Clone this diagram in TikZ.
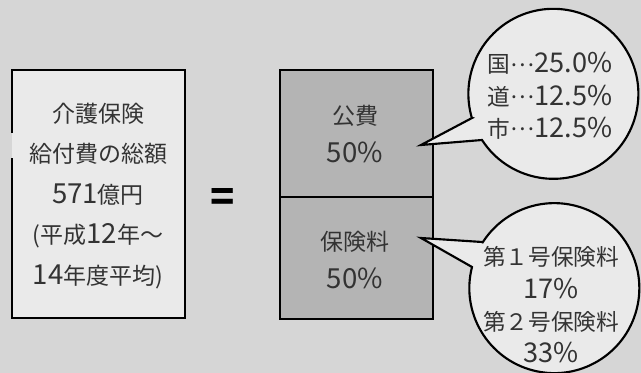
\documentclass[tikz,border=0pt]{standalone}
\usepackage{fontspec}
\setmainfont{Noto Sans CJK JP}
\newfontfamily\numfont{Noto Sans CJK JP}[Scale=1.2]
\newcommand{\digs}[1]{{\numfont #1}}
\newcommand{\middots}{\raisebox{0.3em}{…}}
\definecolor{bgcol}{HTML}{D6D6D6}
\definecolor{lightcol}{HTML}{EAEAEA}
\definecolor{boxcol}{HTML}{B4B4B4}
\definecolor{inkcol}{HTML}{333333}
\begin{document}
\begin{tikzpicture}[x=0.75pt,y=0.75pt,
  frame/.style={draw=black, line width=1.6pt},
  bigtext/.style={text=inkcol, align=center, inner sep=0pt,
    font=\fontsize{17.25}{30.4}\selectfont},
  midtext/.style={text=inkcol, align=center, inner sep=0pt,
    font=\fontsize{17.25}{28.5}\selectfont},
  bubtext/.style={text=inkcol, align=center, inner sep=0pt,
    font=\fontsize{17}{24.2}\selectfont}]
% background
\fill[bgcol] (0,0) rectangle (641,373);
\useasboundingbox (0,0) rectangle (641,373);

% left box
\fill[lightcol] (12,55) rectangle (185,303);
\draw[frame] (12,240) -- (12,303) -- (185,303) -- (185,55) -- (12,55) -- (12,215);
\node[bigtext] (total) at (98,177) {介護保険\\給付費の総額\\\digs{571}億円\\(平成\digs{12}年～\\\digs{14}年度平均)};

% equals sign
\node[text=black, inner sep=0pt, font=\fontsize{30}{30}\selectfont\bfseries] (eq) at (222.5,173) {=};

% center boxes
\fill[boxcol] (280,54) rectangle (433,303);
\draw[frame] (280,54) rectangle (433,303);
\draw[frame] (280,176) -- (433,176);
\node[midtext] (pub) at (355,239) {公費\\\digs{50\%}};
\node[midtext] (ins) at (355,113) {保険料\\\digs{50\%}};

% top bubble
\filldraw[fill=lightcol, frame, line join=miter]
  (472,255) -- (421,228) -- (482,233)
  arc[start angle=212.9, end angle=556.5, radius=85] -- cycle;
\node[bubtext] (pubsplit) at (550,277) {国\middots\digs{25.0\%}\\道\middots\digs{12.5\%}\\市\middots\digs{12.5\%}};

% bottom bubble
\filldraw[fill=lightcol, frame, line join=miter]
  (482,131) -- (421,135) -- (472,106)
  arc[start angle=165.6, end angle=507.4, radius=85] -- cycle;
\node[bubtext] (inssplit) at (551,68) {第１号保険料\\\digs{17\%}\\第２号保険料\\\digs{33\%}};
\end{tikzpicture}
\end{document}
